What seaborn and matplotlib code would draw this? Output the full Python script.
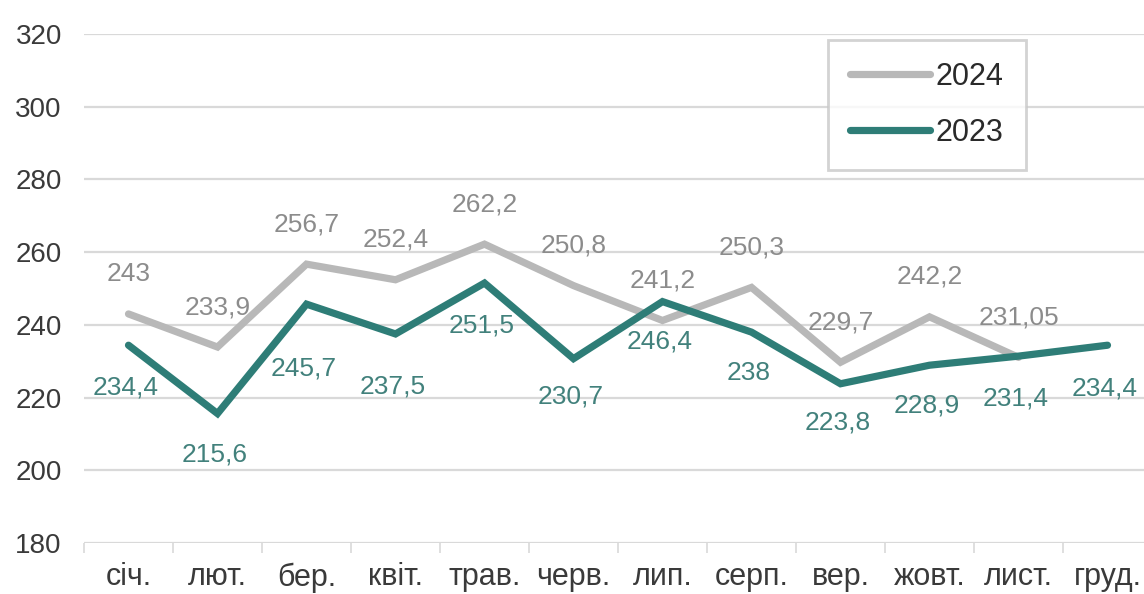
import matplotlib
matplotlib.use("Agg")
import matplotlib.pyplot as plt
import seaborn as sns
import pandas as pd
import numpy as np

months = ["січ.", "лют.", "бер.", "квіт.", "трав.", "черв.", "лип.", "серп.", "вер.", "жовт.", "лист.", "груд."]
values_2024 = [243, 233.9, 256.7, 252.4, 262.2, 250.8, 241.2, 250.3, 229.7, 242.2, 231.05]
labels_2024 = ["243", "233,9", "256,7", "252,4", "262,2", "250,8", "241,2", "250,3", "229,7", "242,2", "231,05"]
values_2023 = [234.4, 215.6, 245.7, 237.5, 251.5, 230.7, 246.4, 238, 223.8, 228.9, 231.4, 234.4]
labels_2023 = ["234,4", "215,6", "245,7", "237,5", "251,5", "230,7", "246,4", "238", "223,8", "228,9", "231,4", "234,4"]
yticks = [180, 200, 220, 240, 260, 280, 300, 320]

# label offsets (pixels)
off_2024 = [40] * 11
off_2023 = [-42, -41, -64, -53, -42, -38, -40, -41, -39, -40, -42, -43]

sns.set_theme(style="white")
plt.rcParams["font.family"] = ["Liberation Sans Narrow", "Liberation Sans", "DejaVu Sans"]

GRAY_LINE = "#b8b8b8"
GRAY_TEXT = "#8c8c8c"
TEAL_LINE = "#2e7d77"
TEAL_TEXT = "#42817c"
GRID = "#d9d9d9"

fig = plt.figure(figsize=(11.44, 5.94), dpi=100)
ax = fig.add_axes([84 / 1144, 51 / 594, (1152 - 84) / 1144, (543 - 34) / 594])

df = pd.DataFrame({
    "x": list(range(len(values_2024))) + list(range(len(values_2023))),
    "y": values_2024 + values_2023,
    "year": ["2024"] * len(values_2024) + ["2023"] * len(values_2023),
})

sns.lineplot(data=df, x="x", y="y", hue="year", hue_order=["2024", "2023"],
             palette={"2024": GRAY_LINE, "2023": TEAL_LINE}, linewidth=5.2,
             ax=ax, legend=False, solid_capstyle="round", solid_joinstyle="miter", zorder=3)

for i, (v, t) in enumerate(zip(values_2024, labels_2024)):
    ax.annotate(t, (i, v), xytext=(0, off_2024[i] * 0.72), textcoords="offset points",
                ha="center", va="center", fontsize=19, color=GRAY_TEXT, zorder=4)
for i, (v, t) in enumerate(zip(values_2023, labels_2023)):
    ax.annotate(t, (i, v), xytext=(-2, off_2023[i] * 0.72), textcoords="offset points",
                ha="center", va="center", fontsize=19, color=TEAL_TEXT, zorder=4)

ax.set_xlim(-0.5, 11.5)
ax.set_ylim(180, 320)
ax.set_yticks(yticks)
ax.set_yticklabels([str(v) for v in yticks])
ax.set_xticks(range(len(months)))
ax.set_xticklabels(months)
ax.set_xticks(np.arange(-0.5, 12, 1), minor=True)

ax.grid(axis="y", color=GRID, linewidth=1.6, zorder=0)
for s in ["top", "right", "left", "bottom"]:
    ax.spines[s].set_visible(False)

ax.tick_params(axis="y", length=0, pad=16, labelsize=20, labelcolor="#3a3a3a")
ax.tick_params(axis="x", which="major", length=0, pad=14, labelsize=22, labelcolor="#3a3a3a")
ax.tick_params(axis="x", which="minor", length=7, width=1.2, color=GRID, direction="out")
ax.xaxis.set_tick_params(which="minor", bottom=True)
ax.set_xlabel("")
ax.set_ylabel("")

from matplotlib.lines import Line2D
handles = [Line2D([0], [0], color=GRAY_LINE, lw=5.2, solid_capstyle="round"),
           Line2D([0], [0], color=TEAL_LINE, lw=5.2, solid_capstyle="round")]
leg = ax.legend(handles, ["2024", "2023"], loc="upper left", bbox_to_anchor=(0.697, 0.988),
                borderaxespad=0, fontsize=22, frameon=True, fancybox=False,
                handlelength=2.6, handletextpad=0.2, labelspacing=0.85, borderpad=0.72)
leg.get_frame().set_edgecolor("#c8c8c8")
leg.get_frame().set_linewidth(2)
for t in leg.get_texts():
    t.set_color("#2a2a2a")

fig.savefig("out.png", dpi=100)
